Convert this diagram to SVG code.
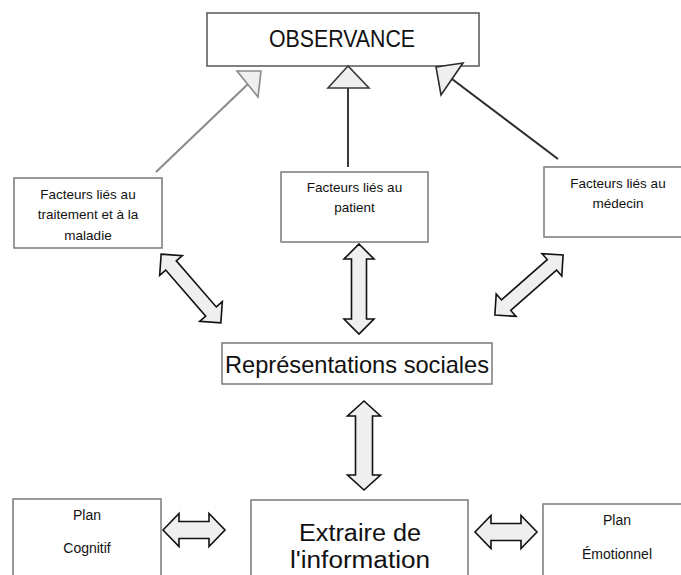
<svg xmlns="http://www.w3.org/2000/svg" width="681" height="575" viewBox="0 0 681 575">
<style>
  .box { fill: #ffffff; stroke: #7a7a7a; stroke-width: 1.5; }
  .t { font-family: "Liberation Sans", Arial, sans-serif; fill: #111; text-anchor: middle; }
  .s { font-size: 13.5px; }
  .m { font-size: 14px; }
  .blk { fill: #efefef; stroke: #111; stroke-width: 1.6; stroke-linejoin: miter; }
  .head { fill: #efefef; stroke-width: 1.6; stroke-linejoin: miter; }
</style>
<rect width="681" height="575" fill="#ffffff"/>

<g id="observance">
  <rect class="box" x="207" y="13" width="272" height="53" style="stroke:#555"/>
  <text class="t" x="342" y="47" font-size="24" textLength="146" lengthAdjust="spacingAndGlyphs">OBSERVANCE</text>
</g>

<g id="traitement">
  <rect class="box" x="14" y="178" width="148" height="70"/>
  <text class="t s" x="88" y="199">Facteurs liés au</text>
  <text class="t s" x="88" y="219">traitement et à la</text>
  <text class="t s" x="88" y="240">maladie</text>
</g>

<g id="patient">
  <rect class="box" x="281" y="172" width="147" height="70"/>
  <text class="t s" x="354.5" y="192">Facteurs liés au</text>
  <text class="t s" x="354.5" y="212">patient</text>
</g>

<g id="medecin">
  <rect class="box" x="544" y="167" width="140" height="70"/>
  <text class="t s" x="618" y="188">Facteurs liés au</text>
  <text class="t s" x="618" y="208">médecin</text>
</g>

<g id="representations">
  <rect class="box" x="222" y="343" width="270" height="41"/>
  <text class="t" x="357" y="373" font-size="24" textLength="264" lengthAdjust="spacingAndGlyphs">Représentations sociales</text>
</g>

<g id="cognitif">
  <rect class="box" x="13" y="499" width="148" height="90"/>
  <text class="t m" x="87" y="520">Plan</text>
  <text class="t m" x="87" y="553">Cognitif</text>
</g>

<g id="extraire">
  <rect class="box" x="251" y="500" width="217" height="90"/>
  <text class="t" x="360" y="541" font-size="23" textLength="122" lengthAdjust="spacingAndGlyphs">Extraire de</text>
  <text class="t" x="360" y="568" font-size="23" textLength="140" lengthAdjust="spacingAndGlyphs">l'information</text>
</g>

<g id="emotionnel">
  <rect class="box" x="543" y="504" width="145" height="90"/>
  <text class="t m" x="617" y="525">Plan</text>
  <text class="t m" x="617" y="559">Émotionnel</text>
</g>

<g id="connectors">
  <!-- line arrows to OBSERVANCE -->
  <line x1="156" y1="172" x2="248" y2="84" stroke="#8a8a8a" stroke-width="2"/>
  <polygon class="head" points="261,71 237,71 258,97" stroke="#8a8a8a"/>

  <line x1="348" y1="167" x2="348" y2="88" stroke="#3a3a3a" stroke-width="2"/>
  <polygon class="head" points="348,66 328,88 369,88" stroke="#3a3a3a"/>

  <line x1="558" y1="159" x2="452" y2="79" stroke="#2a2a2a" stroke-width="2"/>
  <polygon class="head" points="436,67 463,63 441,95" stroke="#2a2a2a"/>

  <!-- block double arrows -->
  <path class="blk" transform="translate(191,288.5) rotate(49)" d="M-45.5 0 L-30.5 -15 L-30.5 -7 L30.5 -7 L30.5 -15 L45.5 0 L30.5 15 L30.5 7 L-30.5 7 L-30.5 15 Z"/>
  <path class="blk" transform="translate(359,289) rotate(90)" d="M-45 0 L-30 -15 L-30 -7.5 L30 -7.5 L30 -15 L45 0 L30 15 L30 7.5 L-30 7.5 L-30 15 Z"/>
  <path class="blk" transform="translate(529,285) rotate(-41.4)" d="M-45.5 0 L-30.5 -15 L-30.5 -7 L30.5 -7 L30.5 -15 L45.5 0 L30.5 15 L30.5 7 L-30.5 7 L-30.5 15 Z"/>
  <path class="blk" transform="translate(364,445.5) rotate(90)" d="M-44.5 0 L-29.5 -16.5 L-29.5 -8.5 L29.5 -8.5 L29.5 -16.5 L44.5 0 L29.5 16.5 L29.5 8.5 L-29.5 8.5 L-29.5 16.5 Z"/>
  <path class="blk" transform="translate(194,530)" d="M-31 0 L-15 -16.5 L-15 -8.5 L15 -8.5 L15 -16.5 L31 0 L15 16.5 L15 8.5 L-15 8.5 L-15 16.5 Z"/>
  <path class="blk" transform="translate(506,532)" d="M-31 0 L-15 -16.5 L-15 -8.5 L15 -8.5 L15 -16.5 L31 0 L15 16.5 L15 8.5 L-15 8.5 L-15 16.5 Z"/>
</g>
</svg>
